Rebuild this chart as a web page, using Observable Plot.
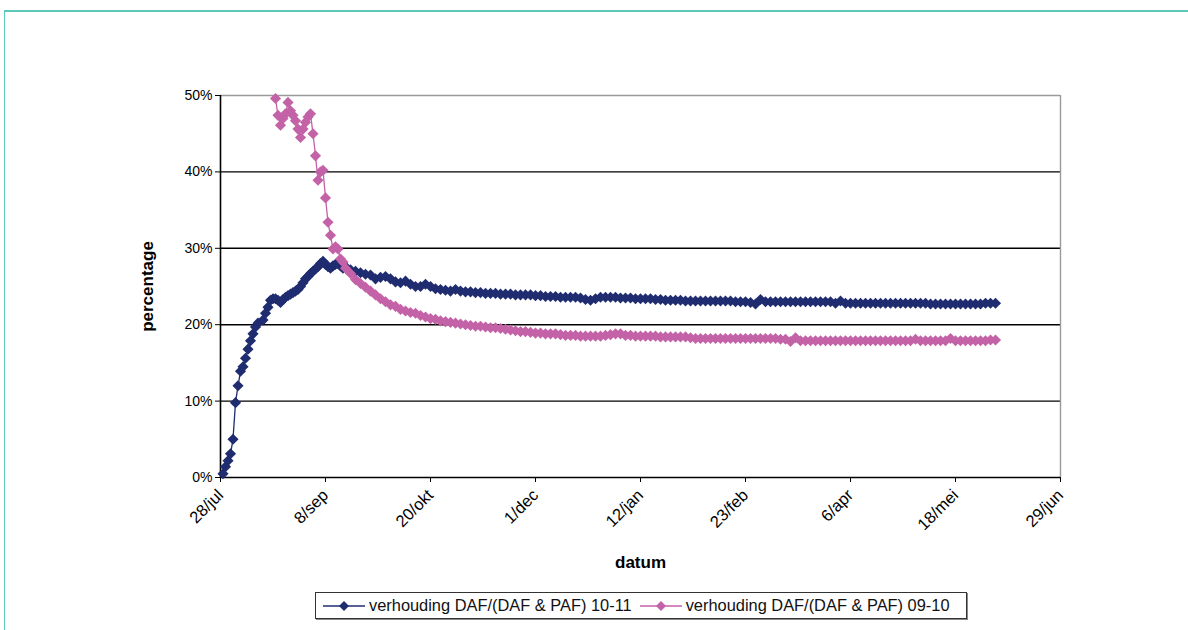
<!DOCTYPE html>
<html>
<head>
<meta charset="utf-8">
<script src="https://cdn.jsdelivr.net/npm/d3@7"></script>
<script src="https://cdn.jsdelivr.net/npm/@observablehq/plot@0.6"></script>
<style>
  html, body { margin: 0; padding: 0; background: #fff; }
  #page { position: relative; width: 1188px; height: 630px; overflow: hidden; font-family: "Liberation Sans", Arial, sans-serif; }
  #frame { position: absolute; left: 4px; top: 10px; right: -2px; bottom: -2px; border-top: 2px solid #5cc9ba; border-left: 1px solid #5cc9ba; }
  #chart { position: absolute; left: 0; top: 0; }
  #legend { position: absolute; left: 315px; top: 592px; width: 650px; height: 25px; border: 1px solid #333; box-shadow: 1px 1px 0 #888;
            display: flex; align-items: center; font-size: 16.4px; color: #111; background: #fff; }
  .item { display: flex; align-items: center; margin-left: 7px; }
  .item + .item { margin-left: 8px; }
  .item svg { margin-right: 4px; }
</style>
</head>
<body>
<div id="page">
  <div id="frame"></div>
  <div id="chart"></div>
  <div id="legend"></div>
</div>
<script>
// ---- data (day offset from 28 jul 2010, percentage) ----
const startDate = "2010-07-28";
const seriesNames = ["verhouding DAF/(DAF & PAF) 10-11", "verhouding DAF/(DAF & PAF) 09-10"];
const seriesColors = ["#1f2c70", "#c462a8"];

const blueDays = [1,2,3,4,5,6,7,8,9,10,11,12,13,14,15,17,18,19,20,21,22,23,24,25,26,27,28,29,30,31,32,33,34,35,36,37,38,39,40,41,42,43,44,45,46,47,48,49,
  50,52,54,56,58,60,62,64,66,68,70,72,74,76,78,80,82,84,86,88,90,92,94,96,98,
  100,102,104,106,108,110,112,114,116,118,120,122,124,126,128,130,132,134,136,138,140,142,144,146,148,150,152,154,156,158,
  160,162,164,166,168,170,172,174,176,178,180,182,184,186,188,190,192,194,196,198,200,202,204,206,208,210,212,214,216,218,
  220,222,224,226,228,230,232,234,236,238,240,242,244,246,248,250,252,254,256,258,260,262,264,266,268,270,272,274,276,278,
  280,282,284,286,288,290,292,294,296,298,300,302,304,306,308,310];
const blueVals = [0.5,1.4,2.2,3.1,5.0,9.8,12.0,13.9,14.5,15.6,16.8,17.9,18.8,19.7,20.2,20.6,21.5,22.3,23.2,23.4,23.4,23.2,22.9,23.3,23.6,23.8,24.0,24.2,24.4,24.6,25.0,25.5,26.0,26.3,26.7,27.0,27.3,27.6,28.0,28.3,27.9,27.6,27.4,27.7,27.9,28.0,27.7,27.4,
  27.6,27.2,27.0,26.8,26.6,26.5,26.0,26.2,26.3,26.0,25.6,25.5,25.7,25.3,25.0,25.0,25.3,25.0,24.7,24.6,24.5,24.4,24.6,24.4,24.3,
  24.3,24.2,24.2,24.1,24.1,24.1,24.0,24.0,24.0,23.9,23.9,23.9,23.9,23.8,23.8,23.7,23.7,23.7,23.6,23.6,23.6,23.6,23.5,23.3,23.2,23.4,23.6,23.6,23.6,23.6,
  23.5,23.5,23.5,23.4,23.4,23.4,23.4,23.3,23.3,23.2,23.2,23.2,23.2,23.1,23.1,23.1,23.1,23.1,23.1,23.1,23.1,23.1,23.1,23.0,23.0,23.0,22.9,22.7,23.3,23.0,
  23.0,23.0,23.0,23.0,23.0,23.0,23.0,23.0,23.0,23.0,23.0,23.0,23.0,22.8,23.1,22.8,22.8,22.8,22.8,22.8,22.8,22.8,22.8,22.8,22.8,22.8,22.8,22.8,22.8,22.8,
  22.8,22.8,22.7,22.7,22.7,22.7,22.7,22.7,22.7,22.7,22.7,22.7,22.7,22.8,22.8,22.8];

const pinkDays = [22,23,24,25,26,27,28,29,30,31,32,33,34,35,36,37,38,39,40,41,42,43,44,45,46,47,48,49,50,
  52,54,56,58,60,62,64,66,68,70,72,74,76,78,80,82,84,86,88,90,92,94,96,98,
  100,102,104,106,108,110,112,114,116,118,120,122,124,126,128,130,132,134,136,138,140,142,144,146,148,150,152,154,156,158,
  160,162,164,166,168,170,172,174,176,178,180,182,184,186,188,190,192,194,196,198,200,202,204,206,208,210,212,214,216,218,
  220,222,224,226,228,230,232,234,236,238,240,242,244,246,248,250,252,254,256,258,260,262,264,266,268,270,272,274,276,278,
  280,282,284,286,288,290,292,294,296,298,300,302,304,306,308,310];
const pinkVals = [49.6,47.4,46.1,47.0,47.6,49.1,48.0,47.4,46.7,45.6,44.5,45.6,46.5,47.2,47.6,45.0,42.1,38.9,40.0,40.2,36.6,33.4,31.7,29.9,30.2,29.9,28.6,28.2,27.4,
  26.7,25.9,25.4,24.9,24.4,23.9,23.4,23.0,22.6,22.4,22.0,21.8,21.6,21.5,21.2,21.0,20.8,20.7,20.5,20.4,20.3,20.2,20.1,20.0,
  19.9,19.8,19.8,19.7,19.6,19.6,19.5,19.4,19.3,19.2,19.1,19.1,19.0,18.9,18.9,18.8,18.8,18.8,18.7,18.6,18.6,18.6,18.5,18.5,18.5,18.5,18.5,18.6,18.7,18.8,
  18.8,18.6,18.6,18.5,18.5,18.5,18.5,18.5,18.4,18.4,18.4,18.4,18.4,18.4,18.3,18.2,18.2,18.2,18.2,18.2,18.2,18.2,18.2,18.2,18.2,18.2,18.2,18.2,18.2,18.2,
  18.2,18.2,18.1,18.1,17.8,18.3,17.9,17.9,17.9,17.9,17.9,17.9,17.9,17.9,17.9,17.9,17.9,17.9,17.9,17.9,17.9,17.9,17.9,17.9,17.9,17.9,17.9,17.9,17.9,18.1,
  17.9,17.9,17.9,17.9,17.9,17.9,18.2,17.9,17.9,17.9,17.9,17.9,17.9,17.9,18.0,18.0];

const tickDays = [0,42,84,126,168,210,252,294,336];
const tickLabels = ["28/jul","8/sep","20/okt","1/dec","12/jan","23/feb","6/apr","18/mei","29/jun"];
const yTicks = [0,10,20,30,40,50];
const gridVals = [10,20,30,40];

// ---- build ----
const t0 = Date.parse(startDate + "T00:00:00Z");
const day = 86400000;
const toDate = d => new Date(t0 + d * day);
const blue = blueDays.map((d, i) => ({date: toDate(d), v: blueVals[i] / 100}));
const pink = pinkDays.map((d, i) => ({date: toDate(d), v: pinkVals[i] / 100}));
const tickDates = tickDays.map(toDate);
const labelByTime = new Map(tickDates.map((d, i) => [+d, tickLabels[i]]));

const W = 1188, H = 585;
const chart = Plot.plot({
  width: W, height: H,
  marginLeft: 220, marginRight: 128, marginTop: 95, marginBottom: H - 477,
  style: {fontFamily: "'Liberation Sans', Arial, sans-serif", fontSize: "14px", background: "transparent", color: "#000"},
  x: {type: "utc", domain: [tickDates[0], tickDates[tickDates.length - 1]]},
  y: {domain: [0, 0.5]},
  marks: [
    Plot.ruleY(gridVals.map(v => v / 100), {stroke: "#000", strokeWidth: 1.4}),
    Plot.ruleY([0.5], {stroke: "#9a9a9a", strokeWidth: 1.4}),
    Plot.ruleX([tickDates[tickDates.length - 1]], {stroke: "#9a9a9a", strokeWidth: 1.4}),
    Plot.axisY({ticks: yTicks.map(v => v / 100), tickFormat: d => Math.round(d * 100) + "%", tickSize: 5, tickPadding: 3, label: null, fontSize: 14, stroke: "#000"}),
    Plot.axisX({ticks: tickDates, tickFormat: d => labelByTime.get(+d), tickSize: 5, tickPadding: 10, tickRotate: -45, label: null, fontSize: 16.5, stroke: "#000"}),
    Plot.ruleY([0], {stroke: "#000", strokeWidth: 1.6}),
    Plot.ruleX([tickDates[0]], {stroke: "#000", strokeWidth: 1.6}),
    Plot.line(blue, {x: "date", y: "v", stroke: seriesColors[0], strokeWidth: 1.3}),
    Plot.dot(blue, {x: "date", y: "v", symbol: "diamond2", r: 5, fill: seriesColors[0], stroke: "none"}),
    Plot.line(pink, {x: "date", y: "v", stroke: seriesColors[1], strokeWidth: 1.3}),
    Plot.dot(pink, {x: "date", y: "v", symbol: "diamond2", r: 5, fill: seriesColors[1], stroke: "none"}),
    Plot.text(["percentage"], {frameAnchor: "left", dx: -73, rotate: -90, textAnchor: "middle", lineAnchor: "middle", fontWeight: "bold", fontSize: 17, fill: "#000"}),
    Plot.text(["datum"], {frameAnchor: "bottom", dy: 85, textAnchor: "middle", lineAnchor: "middle", fontWeight: "bold", fontSize: 17, fill: "#000"})
  ]
});
document.getElementById("chart").appendChild(chart);

// legend
const legend = document.getElementById("legend");
seriesNames.forEach((name, i) => {
  const item = document.createElement("div");
  item.className = "item";
  item.innerHTML = `<svg width="42" height="12"><line x1="0" y1="6" x2="42" y2="6" stroke="${seriesColors[i]}" stroke-width="1.3"/><path d="M21,1 L26,6 L21,11 L16,6Z" fill="${seriesColors[i]}"/></svg><span>${name}</span>`;
  legend.appendChild(item);
});
</script>
</body>
</html>
